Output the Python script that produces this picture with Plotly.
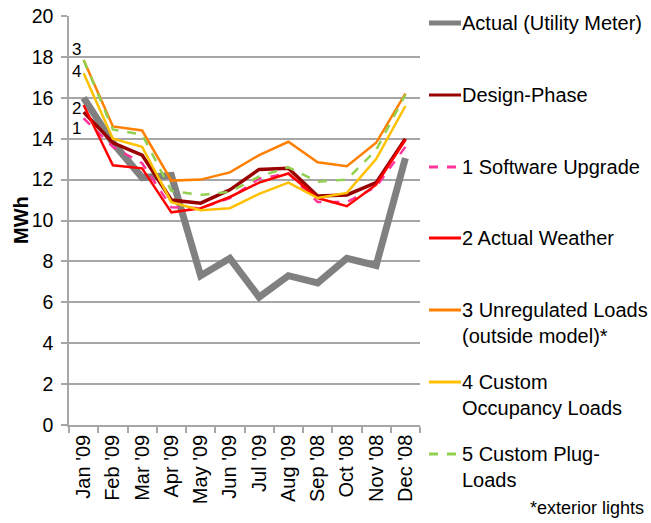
import plotly.graph_objects as go

months = ["Jan '09", "Feb '09", "Mar '09", "Apr '09", "May '09", "Jun '09",
          "Jul '09", "Aug '09", "Sep '08", "Oct '08", "Nov '08", "Dec '08"]

actual_meter = [16.0, 13.8, 12.1, 12.2, 7.3, 8.15, 6.25, 7.3, 6.95, 8.15, 7.8, 13.05]
design_phase = [15.3, 13.8, 13.2, 11.0, 10.85, 11.5, 12.5, 12.55, 11.2, 11.25, 11.85, 14.0]
software_upgrade = [15.0, 13.6, 12.8, 10.65, 10.6, 11.1, 12.05, 12.3, 10.9, 10.9, 11.65, 13.6]
actual_weather = [15.65, 12.7, 12.55, 10.4, 10.6, 11.15, 11.85, 12.3, 11.1, 10.7, 11.75, 13.95]
unregulated_loads = [17.85, 14.6, 14.4, 11.95, 12.0, 12.35, 13.2, 13.85, 12.85, 12.65, 13.8, 16.2]
occupancy_loads = [17.2, 14.0, 13.6, 10.9, 10.5, 10.6, 11.3, 11.85, 11.1, 11.35, 13.0, 15.6]
plug_loads = [17.85, 14.45, 14.2, 11.45, 11.25, 11.4, 12.15, 12.6, 11.9, 12.0, 13.45, 16.15]

series_names = ["Actual (Utility Meter)", "Design-Phase", "1 Software Upgrade",
                "2 Actual Weather", "3 Unregulated Loads<br>(outside model)*",
                "4 Custom<br>Occupancy Loads", "5 Custom Plug-<br>Loads"]
series_values = [actual_meter, design_phase, software_upgrade, actual_weather,
                 unregulated_loads, occupancy_loads, plug_loads]
series_colors = ["#808080", "#990000", "#FF3399", "#FF0000", "#FF7F00", "#FFC000", "#92D050"]
series_widths = [7, 3.5, 2.5, 2.5, 2.5, 2.5, 2.5]
series_dash = ["solid", "solid", "dash", "solid", "solid", "solid", "dash"]
legend_widths = [5, 3, 3, 3, 3, 3, 3]

y_ticks = [0, 2, 4, 6, 8, 10, 12, 14, 16, 18, 20]
start_labels = ["3", "4", "2", "1"]
start_label_values = [18.35, 17.3, 15.5, 14.5]

FONT = "Liberation Sans, Arial, sans-serif"

# layout geometry (pixels)
W, H = 651, 523
L, R, T, B = 69, 231, 16, 98
PX0, PX1 = L, W - R
PY0, PY1 = T, H - B


def px(x):
    return (x - PX0) / (PX1 - PX0)


def py(y):
    return (PY1 - y) / (PY1 - PY0)


fig = go.Figure()
for name, vals, col, w, d in zip(series_names, series_values, series_colors,
                                 series_widths, series_dash):
    fig.add_trace(go.Scatter(
        x=months, y=vals, mode="lines", name=name,
        line=dict(color=col, width=w, dash=d),
        showlegend=False,
    ))

# start labels near January
for lab, v in zip(start_labels, start_label_values):
    fig.add_annotation(x=-0.26, y=v, xref="x", yref="y", text=lab, borderpad=0,
                       showarrow=False, font=dict(size=17, color="#000000", family=FONT))

# manual legend
legend_y = [23, 95, 167, 238, 310, 382, 454]
for name, col, lw, d, ly in zip(series_names, series_colors, legend_widths,
                                 series_dash, legend_y):
    fig.add_shape(type="line", xref="paper", yref="paper",
                  x0=px(429), x1=px(461), y0=py(ly), y1=py(ly),
                  line=dict(color=col, width=lw, dash="dash" if d == "dash" else "solid"))
    fig.add_annotation(xref="paper", yref="paper", x=px(460), y=py(ly - 13),
                       xanchor="left", yanchor="top", align="left",
                       text=name, showarrow=False,
                       font=dict(size=20, color="#000000", family=FONT))

fig.add_annotation(xref="paper", yref="paper", x=px(646), y=py(508),
                   xanchor="right", yanchor="middle", text="*exterior lights",
                   showarrow=False, font=dict(size=18, color="#000000", family=FONT))

# y-axis title
fig.add_annotation(xref="paper", yref="paper", x=px(21), y=py(220),
                   xanchor="center", yanchor="middle", textangle=-90,
                   text="<b>MWh</b>", showarrow=False,
                   font=dict(size=20, color="#000000", family=FONT))

fig.update_layout(
    width=W, height=H,
    margin=dict(l=L, r=R, t=T, b=B, pad=0, autoexpand=False),
    paper_bgcolor="white", plot_bgcolor="white",
    font=dict(family=FONT, size=18, color="#000000"),
    showlegend=False,
)
fig.update_xaxes(
    type="category", tickangle=-90, showgrid=False, automargin=False,
    showline=True, linecolor="#A6A6A6", linewidth=1.5,
    ticks="outside", tickson="boundaries", ticklen=6, tickcolor="#A6A6A6", tickwidth=1.5,
    tickfont=dict(size=20, family=FONT),
    range=[-0.5, 11.5],
)
fig.update_yaxes(
    range=[0, 20], tickvals=y_ticks, showgrid=True, gridcolor="#A6A6A6", gridwidth=1.5,
    showline=True, linecolor="#A6A6A6", linewidth=1.5, automargin=False,
    ticks="outside", ticklen=6, tickcolor="#A6A6A6", tickwidth=1.5,
    ticklabelstandoff=4, zeroline=False,
    tickfont=dict(size=19.5, family=FONT),
)

fig.write_html("out.html", config={"displayModeBar": False},
               post_script="document.body.style.margin='0';document.body.style.overflow='hidden';")
